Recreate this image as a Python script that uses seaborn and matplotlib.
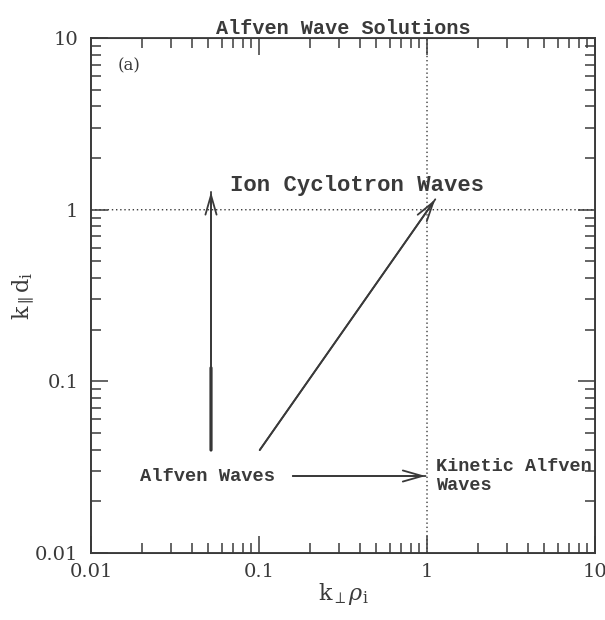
import numpy as np
import pandas as pd
import matplotlib
matplotlib.use("Agg")
import matplotlib.pyplot as plt
import seaborn as sns
from matplotlib.ticker import LogLocator, NullFormatter

# Axis decades and their labels
tick_values = [0.01, 0.1, 1, 10]
tick_labels = ["0.01", "0.1", "1", "10"]

# Wave-branch arrows in (k_perp rho_i, k_par d_i): start and end points
arrow_names = ["ion_cyclotron_vertical", "ion_cyclotron_diagonal", "kinetic_alfven"]
arrow_x0 = [0.0518, 0.101, 0.159]
arrow_y0 = [0.0398, 0.0398, 0.0281]
arrow_x1 = [0.0518, 1.12, 0.98]
arrow_y1 = [1.27, 1.15, 0.0281]

# Heavier stroke along the lower part of the vertical arrow
bold_x = [0.0518, 0.0518]
bold_y = [0.0398, 0.12]

# Region labels
label_texts = ["Ion Cyclotron Waves", "Alfven Waves", "Kinetic Alfven\nWaves", "(a)"]
label_x = [0.0672, 0.0196, 1.13, 0.0145]
label_y = [1.39, 0.0281, 0.0281, 6.86]

sns.set_theme(style="ticks")
plt.rcParams["font.family"] = ["DejaVu Serif"]
plt.rcParams["mathtext.fontset"] = "dejavuserif"
plt.rcParams["path.snap"] = False

ink = "#3a3a3a"
mono = "Liberation Mono"

fig = plt.figure(figsize=(6.05, 6.2), dpi=100)
ax = fig.add_axes([0.1504, 0.108, 0.8331, 0.8306])

# Arrow shafts
segs = pd.DataFrame({
    "x": arrow_x0 + arrow_x1,
    "y": arrow_y0 + arrow_y1,
    "seg": arrow_names + arrow_names,
})
sns.lineplot(data=segs, x="x", y="y", units="seg", estimator=None, sort=False,
             color=ink, lw=1.3, ax=ax, legend=False)
sns.lineplot(x=bold_x, y=bold_y, estimator=None, sort=False,
             color="#1a1a1a", lw=2.2, ax=ax, legend=False)

# Open arrow heads
for x0, y0, x1, y1 in zip(arrow_x0, arrow_y0, arrow_x1, arrow_y1):
    ax.annotate("", xy=(x1, y1), xytext=(x0, y0),
                arrowprops=dict(arrowstyle="->,head_length=0.7,head_width=0.2",
                                color=ink, lw=1.3, mutation_scale=20,
                                shrinkA=0, shrinkB=0))

ax.set_xscale("log")
ax.set_yscale("log")
ax.set_xlim(0.01, 10)
ax.set_ylim(0.01, 10)

# Dotted guides at k_perp rho_i = 1 and k_par d_i = 1
ax.axvline(1, color=ink, lw=1.0, ls=(0, (1, 2)))
ax.axhline(1, color=ink, lw=1.0, ls=(0, (1, 2)))

ax.text(label_x[0], label_y[0], label_texts[0], family=mono, fontweight="bold",
        fontsize=16, color=ink, ha="left", va="center")
ax.text(label_x[1], label_y[1], label_texts[1], family=mono, fontweight="bold",
        fontsize=13.5, color=ink, ha="left", va="center")
ax.text(label_x[2], label_y[2], label_texts[2], family=mono, fontweight="bold",
        fontsize=13.3, color=ink, ha="left", va="center", linespacing=1.2)
ax.text(label_x[3], label_y[3], label_texts[3], family="DejaVu Serif",
        fontsize=12, color=ink, ha="left", va="center")

ax.set_title("Alfven Wave Solutions", family=mono, fontweight="bold",
             fontsize=14.5, color=ink, pad=3)

ax.set_xticks(tick_values, tick_labels)
ax.set_yticks(tick_values, tick_labels)
for axis in (ax.xaxis, ax.yaxis):
    axis.set_minor_locator(LogLocator(base=10, subs=np.arange(2, 10)))
    axis.set_minor_formatter(NullFormatter())

ax.tick_params(which="both", direction="in", top=True, right=True,
               color=ink, width=1.1)
ax.tick_params(which="major", length=12, labelsize=14, labelcolor=ink)
ax.tick_params(axis="x", which="major", pad=7)
ax.tick_params(axis="y", which="major", pad=9)
ax.tick_params(which="minor", length=7)
for s in ax.spines.values():
    s.set_color(ink)
    s.set_linewidth(1.4)

ax.set_xlabel(r"$\mathrm{k}_{\perp}\rho_{\mathrm{i}}$", fontsize=16, color=ink, labelpad=0)
ax.set_ylabel(r"$\mathrm{k}_{\parallel}\mathrm{d}_{\mathrm{i}}$", fontsize=16, color=ink, labelpad=-1)

fig.savefig("out.png", dpi=100, facecolor="white")
